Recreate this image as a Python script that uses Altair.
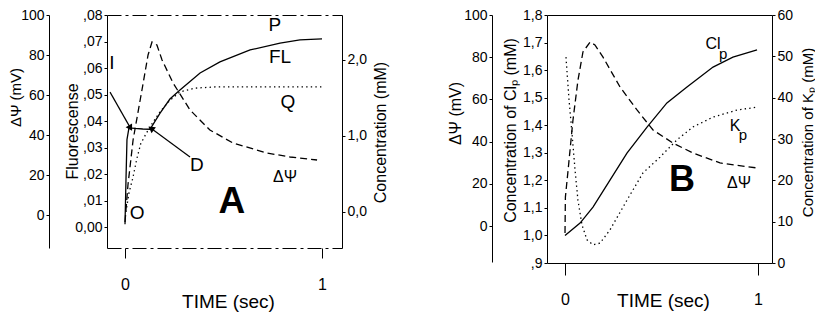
import altair as alt
import pandas as pd

W, H = 807, 308
FONT = "Liberation Sans"

# ---------------- Panel A data ----------------
a_fl_t = [0.0, 0.005, 0.01, 0.02, 0.05, 0.09, 0.127, 0.178, 0.228, 0.279, 0.381, 0.482, 0.635, 0.787, 0.888, 1.0]
a_fl = [0.0011, 0.018, 0.033, 0.0374, 0.0372, 0.0370, 0.0369, 0.043, 0.0483, 0.0517, 0.0581, 0.0623, 0.0668, 0.0694, 0.0706, 0.071]

a_psi_t = [0.0, 0.015, 0.041, 0.086, 0.117, 0.137, 0.162, 0.188, 0.244, 0.33, 0.431, 0.548, 0.721, 0.838, 0.975]
a_psi = [-3.5, 15, 37.5, 62.5, 80, 86.5, 85, 77.5, 66, 52.5, 42.5, 36, 31, 29, 27.5]

a_q_t = [0.005, 0.02, 0.04, 0.06, 0.08, 0.105, 0.127, 0.178, 0.228, 0.279, 0.355, 0.457, 1.0]
a_q = [0.0, 0.25, 0.45, 0.7, 0.9, 1.02, 1.12, 1.32, 1.47, 1.58, 1.63, 1.645, 1.645]

a_lbl_text = ["P", "FL", "Q", "I", "O", "D"]
a_lbl_t = [0.761, 0.787, 0.827, -0.066, 0.061, 0.365]
a_lbl_fl = [0.0762, 0.0642, 0.0472, 0.0619, 0.0053, 0.0234]

a_psi_lbl_t = [0.812]
a_psi_lbl_fl = [0.0189]

a_big_t = [0.543]
a_big_fl = [0.0094]

a_arrow_id = ["I", "I", "D", "D"]
a_arrow_t = [-0.076, 0.025, 0.33, 0.137]
a_arrow_fl = [0.0509, 0.0377, 0.0264, 0.037]
a_head_t = [0.025, 0.137]
a_head_fl = [0.0377, 0.037]
a_head_angle = [150, 306]

# ---------------- Panel B data ----------------
b_cl_t = [0.0, 0.078, 0.145, 0.233, 0.321, 0.425, 0.528, 0.632, 0.767, 0.870, 0.995]
b_cl = [1.0, 1.045, 1.103, 1.201, 1.299, 1.393, 1.481, 1.539, 1.611, 1.647, 1.673]

b_psi_t = [0.0, 0.002, 0.016, 0.041, 0.067, 0.093, 0.13, 0.155, 0.197, 0.285, 0.373, 0.456, 0.56, 0.663, 0.803, 0.995]
b_psi = [-3.3, 13.7, 26.5, 50, 69, 82.5, 87.2, 85.8, 80, 65.9, 55, 45.5, 39.3, 34.6, 29.9, 27.5]

b_k_t = [0.005, 0.021, 0.036, 0.052, 0.067, 0.088, 0.114, 0.145, 0.181, 0.233, 0.321, 0.404, 0.492, 0.58, 0.663, 0.767, 0.891, 0.995]
b_k = [49.8, 39.4, 31.5, 22.5, 15.2, 9.2, 5.6, 4.4, 4.8, 8, 15.2, 21.8, 25.6, 29.8, 32.9, 35.3, 37, 37.7]

b_lbl_text = ["Cl", "K"]
b_lbl_t = [0.767, 0.881]
b_lbl_cl = [1.695, 1.397]
b_sub_text = ["p", "p"]
b_sub_t = [0.819, 0.922]
b_sub_cl = [1.658, 1.364]
b_psi_lbl_t = [0.902]
b_psi_lbl_cl = [1.19]
b_big_t = [0.606]
b_big_cl = [1.201]

# ---------------- scales (domain, pixel range) ----------------
def sc(domain, rng):
    return alt.Scale(domain=domain, range=rng, nice=False, zero=False)

AX_T = sc([-0.0914, 1.1015], [99, 334])
A_PSI = sc([-16.5, 100], [240, 7])
A_FL = sc([-0.0079, 0.08], [240, 7])
A_C = sc([-0.474, 2.592], [240, 7])

BX_T = sc([-0.0933, 1.0725], [539, 764])
B_PSI = sc([-17.06, 100], [254, 7])
B_CL = sc([0.9, 1.8], [255, 7])
B_K = sc([0, 60], [255, 7])

COMMON = dict(grid=False, domainColor="black", tickColor="black", labelColor="black",
              titleColor="black", labelFont=FONT, titleFont=FONT, titleFontWeight="normal",
              labelOverlap=False, labelFlush=False)


def yaxis(orient, offset, values, title, tx, ty, expr=None, tfs=16):
    kw = dict(orient=orient, offset=offset, values=values, title=title, titleX=tx, titleY=ty,
              titleAngle=270, titleAlign="center", titleBaseline="middle", titleFontSize=tfs,
              labelFontSize=14, tickSize=3, labelPadding=2, **COMMON)
    if expr:
        kw["labelExpr"] = expr
    return alt.Axis(**kw)


def xaxis_bottom(offset, tick, pad, tx, ty, dash=None):
    kw = dict(orient="bottom", offset=offset, values=[0, 1], format="d", title="TIME (sec)",
              titleX=tx, titleY=ty, titleAlign="center", titleBaseline="middle",
              titleFontSize=19, labelFontSize=16, labelBaseline="middle", tickSize=tick,
              labelPadding=pad, **COMMON)
    if dash:
        kw["domainDash"] = dash
    return alt.Axis(**kw)


def xaxis_top(dash=None):
    kw = dict(orient="top", offset=-7, labels=False, ticks=False, title=None, **COMMON)
    if dash:
        kw["domainDash"] = dash
    return alt.Axis(**kw)


LINE = dict(color="black", strokeWidth=1.3)
DASH = [7, 4]
DOT = [1.4, 3.2]
BORDER_DASH = [14, 4, 3, 4]

# ---------------- Panel A layers ----------------
dfa_psi = pd.DataFrame({"t": a_psi_t, "v": a_psi})
dfa_fl = pd.DataFrame({"t": a_fl_t, "v": a_fl})
dfa_q = pd.DataFrame({"t": a_q_t, "v": a_q})

a1 = alt.Chart(dfa_psi).mark_line(strokeDash=DASH, **LINE).encode(
    x=alt.X("t:Q", scale=AX_T, axis=xaxis_bottom(240 - H, 10, 26, 220, 53, BORDER_DASH)),
    y=alt.Y("v:Q", scale=A_PSI,
            axis=yaxis("left", -41, [0, 20, 40, 60, 80, 100], "ΔΨ (mV)", -34, 89, tfs=15)),
)
a2 = alt.Chart(dfa_fl).mark_line(**LINE).encode(
    x=alt.X("t:Q", scale=AX_T, axis=xaxis_top(BORDER_DASH)),
    y=alt.Y("v:Q", scale=A_FL,
            axis=yaxis("left", -99, [0, 0.01, 0.02, 0.03, 0.04, 0.05, 0.06, 0.07, 0.08],
                       "Fluorescense", -35, 123,
                       "datum.value == 0 ? '0,00' : replace(format(datum.value, '.2f'), '0.', ',')")),
)
a3 = alt.Chart(dfa_q).mark_line(strokeDash=DOT, **LINE).encode(
    x=alt.X("t:Q", scale=AX_T, axis=None),
    y=alt.Y("v:Q", scale=A_C,
            axis=yaxis("right", 334 - W, [0, 1, 2], "Concentration (mM)", 38, 124,
                       "replace(format(datum.value, '.1f'), '.', ',')")),
)
a_lbl = alt.Chart(pd.DataFrame({"t": a_lbl_t, "v": a_lbl_fl, "s": a_lbl_text})).mark_text(
    font=FONT, fontSize=19, color="black", align="center", baseline="middle").encode(
    x=alt.X("t:Q", scale=AX_T, axis=None), y=alt.Y("v:Q", scale=A_FL, axis=None), text="s:N")
a_psl = alt.Chart(pd.DataFrame({"t": a_psi_lbl_t, "v": a_psi_lbl_fl, "s": ["ΔΨ"]})).mark_text(
    font=FONT, fontSize=16, color="black", align="center", baseline="middle").encode(
    x=alt.X("t:Q", scale=AX_T, axis=None), y=alt.Y("v:Q", scale=A_FL, axis=None), text="s:N")
a_bg = alt.Chart(pd.DataFrame({"t": a_big_t, "v": a_big_fl, "s": ["A"]})).mark_text(
    font=FONT, fontSize=37, fontWeight="bold", color="black", align="center", baseline="middle").encode(
    x=alt.X("t:Q", scale=AX_T, axis=None), y=alt.Y("v:Q", scale=A_FL, axis=None), text="s:N")
a_arr = alt.Chart(pd.DataFrame({"t": a_arrow_t, "v": a_arrow_fl, "id": a_arrow_id})).mark_line(
    color="black", strokeWidth=1.2).encode(
    x=alt.X("t:Q", scale=AX_T, axis=None), y=alt.Y("v:Q", scale=A_FL, axis=None), detail="id:N")
a_head = alt.Chart(pd.DataFrame({"t": a_head_t, "v": a_head_fl, "ang": a_head_angle})).mark_point(
    shape="triangle", filled=True, color="black", size=55, opacity=1).encode(
    x=alt.X("t:Q", scale=AX_T, axis=None), y=alt.Y("v:Q", scale=A_FL, axis=None),
    angle=alt.Angle("ang:Q", scale=None))

# ---------------- Panel B layers ----------------
dfb_psi = pd.DataFrame({"t": b_psi_t, "v": b_psi})
dfb_cl = pd.DataFrame({"t": b_cl_t, "v": b_cl})
dfb_k = pd.DataFrame({"t": b_k_t, "v": b_k})

b1 = alt.Chart(dfb_psi).mark_line(strokeDash=DASH, **LINE).encode(
    x=alt.X("t:Q", scale=BX_T, axis=xaxis_bottom(255 - H, 12, 24, 655, 37)),
    y=alt.Y("v:Q", scale=B_PSI,
            axis=yaxis("left", -484, [0, 20, 40, 60, 80, 100], "ΔΨ (mV)", -37, 105)),
)
b2 = alt.Chart(dfb_cl).mark_line(**LINE).encode(
    x=alt.X("t:Q", scale=BX_T, axis=xaxis_top()),
    y=alt.Y("v:Q", scale=B_CL,
            axis=yaxis("left", -539, [0.9, 1.0, 1.1, 1.2, 1.3, 1.4, 1.5, 1.6, 1.7, 1.8],
                       "Concentration of Clₚ (mM)", -37, 122,
                       "datum.value < 1 ? ',9' : replace(format(datum.value, '.1f'), '.', ',')")),
)
b3 = alt.Chart(dfb_k).mark_line(strokeDash=DOT, **LINE).encode(
    x=alt.X("t:Q", scale=BX_T, axis=None),
    y=alt.Y("v:Q", scale=B_K,
            axis=yaxis("right", 764 - W, [0, 10, 20, 30, 40, 50, 60], "Concentration of Kₚ (mM)", 35, 124,
                       tfs=15)),
)
b_lbl = alt.Chart(pd.DataFrame({"t": b_lbl_t, "v": b_lbl_cl, "s": b_lbl_text})).mark_text(
    font=FONT, fontSize=16, color="black", align="center", baseline="middle").encode(
    x=alt.X("t:Q", scale=BX_T, axis=None), y=alt.Y("v:Q", scale=B_CL, axis=None), text="s:N")
b_sub = alt.Chart(pd.DataFrame({"t": b_sub_t, "v": b_sub_cl, "s": b_sub_text})).mark_text(
    font=FONT, fontSize=15, color="black", align="center", baseline="middle").encode(
    x=alt.X("t:Q", scale=BX_T, axis=None), y=alt.Y("v:Q", scale=B_CL, axis=None), text="s:N")
b_psl = alt.Chart(pd.DataFrame({"t": b_psi_lbl_t, "v": b_psi_lbl_cl, "s": ["ΔΨ"]})).mark_text(
    font=FONT, fontSize=16, color="black", align="center", baseline="middle").encode(
    x=alt.X("t:Q", scale=BX_T, axis=None), y=alt.Y("v:Q", scale=B_CL, axis=None), text="s:N")
b_bg = alt.Chart(pd.DataFrame({"t": b_big_t, "v": b_big_cl, "s": ["B"]})).mark_text(
    font=FONT, fontSize=36, fontWeight="bold", color="black", align="center", baseline="middle").encode(
    x=alt.X("t:Q", scale=BX_T, axis=None), y=alt.Y("v:Q", scale=B_CL, axis=None), text="s:N")

chart = alt.layer(
    a1, a2, a3, a_lbl, a_psl, a_bg, a_arr, a_head,
    b1, b2, b3, b_lbl, b_sub, b_psl, b_bg,
).resolve_scale(x="independent", y="independent").properties(
    width=W, height=H, padding=0, autosize=alt.AutoSizeParams(type="none"),
    background="white",
).configure_view(strokeWidth=0)

chart.save("out.html", embed_options={"renderer": "svg", "actions": False})
